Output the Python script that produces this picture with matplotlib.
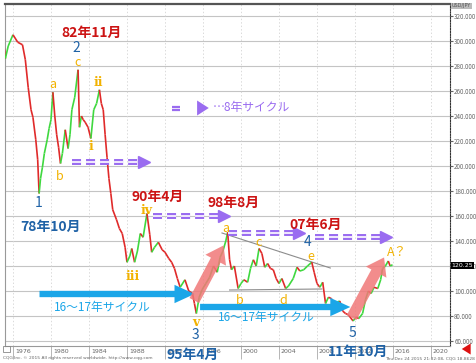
import matplotlib
matplotlib.use('Agg')
import matplotlib.pyplot as plt
import matplotlib.transforms as mtrans
from matplotlib.collections import LineCollection
from matplotlib.patches import FancyArrowPatch, Rectangle

plt.rcParams['font.family'] = ['Noto Sans CJK JP', 'DejaVu Sans']
plt.rcParams['lines.scale_dashes'] = False

# USD/JPY, values
years = [1975.0, 1975.2, 1975.5, 1976.0, 1976.5, 1977.0, 1977.3, 1977.6, 1977.9, 1978.1,
         1978.4, 1978.6, 1978.75, 1978.9, 1979.1, 1979.3, 1979.6, 1979.8, 1980.0, 1980.2,
         1980.4, 1980.6, 1980.8, 1981.0, 1981.2, 1981.5, 1981.8, 1982.0, 1982.2, 1982.5,
         1982.85, 1983.0, 1983.2, 1983.4, 1983.6, 1983.9, 1984.2, 1984.5, 1984.8, 1985.1,
         1985.3, 1985.5, 1985.7, 1985.9, 1986.1, 1986.3, 1986.5, 1986.9, 1987.2, 1987.5,
         1987.8, 1988.0, 1988.3, 1988.5, 1988.8, 1989.1, 1989.4, 1989.7, 1990.1, 1990.4,
         1990.6, 1990.9, 1991.3, 1991.7, 1992.0, 1992.4, 1992.7, 1993.0, 1993.3, 1993.6,
         1994.1, 1994.5, 1994.9, 1995.1, 1995.3, 1995.6, 1995.9, 1996.3, 1996.7, 1997.1,
         1997.5, 1997.8, 1998.1, 1998.4, 1998.6, 1998.8, 1999.0, 1999.3, 1999.7, 2000.0,
         2000.3, 2000.7, 2001.0, 2001.3, 2001.6, 2001.9, 2002.2, 2002.5, 2002.8, 2003.1,
         2003.4, 2003.7, 2004.0, 2004.3, 2004.7, 2005.0, 2005.5, 2005.9, 2006.2, 2006.6,
         2007.0, 2007.45, 2007.7, 2008.0, 2008.3, 2008.6, 2008.9, 2009.2, 2009.5, 2009.8,
         2010.1, 2010.4, 2010.7, 2011.0, 2011.3, 2011.8, 2012.1, 2012.4, 2012.8, 2013.1,
         2013.4, 2013.7, 2014.0, 2014.4, 2014.7, 2014.9, 2015.2, 2015.5, 2015.7, 2015.95]
prices = [300, 286, 296, 305, 299, 297, 285, 263, 245, 239,
          221, 205, 178, 190, 199, 210, 221, 230, 237, 259,
          240, 225, 215, 202, 210, 229, 214, 225, 245, 255,
          277, 231, 240, 237, 235, 231, 222, 245, 250, 261,
          250, 245, 225, 207, 190, 178, 165, 157, 150, 146,
          135, 123, 128, 134, 123, 132, 146, 143, 162, 145,
          131, 135, 139, 133, 131, 126, 123, 118, 110, 103,
          109, 100, 98, 90, 82, 95, 101, 106, 111, 120,
          115, 127, 132, 140, 147, 125, 117, 120, 102, 106,
          109, 107, 118, 125, 120, 134, 130, 119, 122, 118,
          117, 110, 106, 110, 102, 104, 110, 119, 116, 117,
          120, 123, 115, 106, 103, 107, 90, 95, 94, 89,
          91, 92, 84, 82, 81, 76, 79, 78, 82, 93,
          100, 98, 103, 102, 109, 118, 120, 124, 120, 121]

x_ticks = list(range(1976, 2021, 4))
y_ticks = list(range(60, 321, 20))
last_price = '120.25'

PURPLE = '#9a6cf0'
CYAN = '#1ba6e8'
PINK = '#f07878'
RED = '#cc1414'
BLUE = '#1f62a6'
ORANGE = '#f2b200'

fig = plt.figure(figsize=(4.77, 3.63), dpi=100)
ax = fig.add_axes([5 / 477, 17 / 363, 445 / 477, 342 / 363])
ax.set_xlim(1975.16, 2022.0)
ax.set_ylim(56, 329.6)

# grid
for y in y_ticks:
    ax.axhline(y, color='#c4c4c4', lw=0.8, zorder=0)
for x in x_ticks:
    ax.axvline(x, color='#d4d4d4', lw=0.6, ls=(0, (1, 1.5)), zorder=0)

# price line, green when rising, red when falling
segs = [[(years[i], prices[i]), (years[i + 1], prices[i + 1])] for i in range(len(years) - 1)]
cols = ['#3fd83f' if prices[i + 1] >= prices[i] else '#e02a2a' for i in range(len(years) - 1)]
ax.add_collection(LineCollection(segs, colors=cols, linewidths=1.2, zorder=3))

# triangle lines
ax.plot([1998.0, 2009.4], [146.4, 118.4], color='#8c8c8c', lw=0.8, zorder=2)
ax.plot([1998.8, 2008.5], [100.8, 101.6], color='#8c8c8c', lw=0.8, zorder=2)


def purple_arrow(x0, x1, y):
    # dashed double line with a triangle head
    ax.plot([x0, x1 - 0.9], [y, y], color=PURPLE, lw=4.3, dashes=(6.5, 3.6),
            dash_capstyle='butt', zorder=5)
    ax.plot([x0, x1 - 0.9], [y, y], color='white', lw=1.2, dashes=(6.5, 3.6),
            dash_capstyle='butt', zorder=5)
    ax.plot(x1 - 0.6, y, marker='>', ms=8, color=PURPLE, mec=PURPLE, zorder=5)


def fat_arrow(p0, p1, color, style, alpha=1.0):
    ax.add_patch(FancyArrowPatch(p0, p1, arrowstyle=style, mutation_scale=12,
                                 color=color, lw=0, alpha=alpha, zorder=6))


purple_arrow(1982.2, 1990.4, 203.2)
purple_arrow(1990.7, 1998.8, 160.0)
purple_arrow(1998.6, 2006.7, 146.4)
purple_arrow(2007.8, 2015.9, 143.2)

# purple legend
ax.plot([1992.7, 1993.6], [247.6, 247.6], color=PURPLE, lw=1.6, solid_capstyle='butt', zorder=5)
ax.plot([1992.7, 1993.6], [245.2, 245.2], color=PURPLE, lw=1.6, solid_capstyle='butt', zorder=5)
fat_arrow((1995.4, 246.4), (1996.9, 246.4), PURPLE,
          'simple,head_length=0.7,head_width=0.9,tail_width=0.4')
ax.text(1997.05, 246.4, '…8年サイクル', color=PURPLE, fontsize=8.5, va='center', ha='left', zorder=6)

# cyan 16-17 year cycle arrows
cyc_style = 'simple,head_length=1.2,head_width=1.1,tail_width=0.38'
fat_arrow((1978.5, 97.6), (1995.4, 97.6), CYAN, cyc_style)
fat_arrow((1995.4, 87.2), (2011.8, 87.2), CYAN, cyc_style)
ax.text(1985.4, 86.4, '16～17年サイクル', color=CYAN, fontsize=8.5, ha='center', va='center', zorder=6)
ax.text(2002.7, 78.4, '16～17年サイクル', color=CYAN, fontsize=8.5, ha='center', va='center', zorder=6)

# pink up arrows
pink_style = 'simple,head_length=1.0,head_width=1.4,tail_width=0.65'
fat_arrow((1994.95, 90.4), (1998.3, 138.4), PINK, pink_style, alpha=0.85)
fat_arrow((2011.5, 76.8), (2015.2, 128.8), PINK, pink_style, alpha=0.85)

# date labels
for tx, ty, s, c in [(1984.3, 306.4, '82年11月', RED), (1991.2, 175.2, '90年4月', RED),
                     (1999.2, 170.4, '98年8月', RED), (2007.9, 152.8, '07年6月', RED),
                     (1980.0, 151.2, '78年10月', BLUE), (1994.95, 48.8, '95年4月', BLUE),
                     (2012.3, 51.2, '11年10月', BLUE)]:
    ax.text(tx, ty, s, color=c, fontsize=10, fontweight='bold', ha='center', va='center',
            zorder=7, clip_on=False)

# wave counts
for tx, ty, s in [(1978.7, 170.4, '1'), (1982.7, 294.4, '2'), (1995.2, 64.8, '3'),
                  (2007.05, 139.2, '4'), (2011.7, 66.4, '5')]:
    ax.text(tx, ty, s, color=BLUE, fontsize=10, ha='center', va='center', zorder=7)

for tx, ty, s in [(1980.2, 264.8, 'a'), (1980.95, 191.2, 'b'), (1982.8, 282.4, 'c'),
                  (1998.4, 150.4, 'a'), (1999.9, 92.8, 'b'), (2001.8, 139.2, 'c'),
                  (2004.5, 92.8, 'd'), (2007.4, 127.2, 'e'), (2016.4, 131.2, 'A？')]:
    ax.text(tx, ty, s, color=ORANGE, fontsize=9, ha='center', va='center', zorder=7)

for tx, ty, s in [(1984.2, 215.2, 'i'), (1984.95, 267.2, 'ii'), (1988.6, 111.2, 'iii'),
                  (1990.1, 164.8, 'iv'), (1995.2, 74.4, 'v')]:
    ax.text(tx, ty, s, color=ORANGE, fontsize=9, ha='center', va='center', zorder=7,
            family='DejaVu Serif', fontweight='bold')

# axes styling
for side in ['left', 'bottom']:
    ax.spines[side].set_color('#999999')
    ax.spines[side].set_linewidth(0.8)
ax.spines['top'].set_color('#555555')
ax.spines['top'].set_linewidth(1.6)
ax.spines['right'].set_color('#333333')
ax.spines['right'].set_linestyle((0, (1, 1)))
ax.spines['right'].set_linewidth(0.8)

ax.yaxis.tick_right()
ax.set_yticks(y_ticks)
ax.set_yticklabels([f'{v}.000' for v in y_ticks])
ax.tick_params(axis='y', labelsize=4.5, labelcolor='#666666', length=2, pad=1, color='#666666')
ax.set_xticks(x_ticks)
ax.set_xticklabels([])
ax.tick_params(axis='x', length=9, color='#aaaaaa', width=0.6)
blend = mtrans.blended_transform_factory(ax.transData, ax.transAxes)
for x in x_ticks:
    ax.text(x + 0.2, -0.008, str(x), transform=blend, fontsize=4.5, color='#666666',
            ha='left', va='top', family='DejaVu Sans')

yblend = mtrans.blended_transform_factory(ax.transAxes, ax.transData)
ax.text(1.004, 120.25, last_price, transform=yblend, fontsize=4.5, color='white',
        ha='left', va='center', family='DejaVu Sans',
        bbox=dict(fc='black', ec='none', pad=0.6))

# chrome
fig.text(452 / 477, 1 - 6 / 363, 'USD/JPY', fontsize=3.5, color='#555555', ha='left', va='center',
         family='DejaVu Sans', bbox=dict(fc='#bbbbbb', ec='none', pad=0.5))
fig.patches.append(Rectangle((3 / 477, 11 / 363), 7 / 477, 6 / 363, transform=fig.transFigure,
                             fill=False, ec='#888888', lw=0.6))
fig.text(3 / 477, 1 - 358 / 363, 'CQG Inc. © 2015 All rights reserved worldwide. http://www.cqg.com',
         fontsize=3.2, color='#666666', ha='left', va='center', family='DejaVu Sans')
fig.text(475 / 477, 1 - 358 / 363, 'Thu Dec 24 2015 21:32:08, CQG 18.8628',
         fontsize=3.2, color='#666666', ha='right', va='center', family='DejaVu Sans')
fig.patches.append(FancyArrowPatch((471 / 477, 1 - 349 / 363), (459 / 477, 1 - 349 / 363),
                                   transform=fig.transFigure, color='#dd1111', lw=0,
                                   arrowstyle='simple,head_length=0.8,head_width=1.0,tail_width=0.45',
                                   mutation_scale=8))

fig.savefig('out.png', dpi=100)
